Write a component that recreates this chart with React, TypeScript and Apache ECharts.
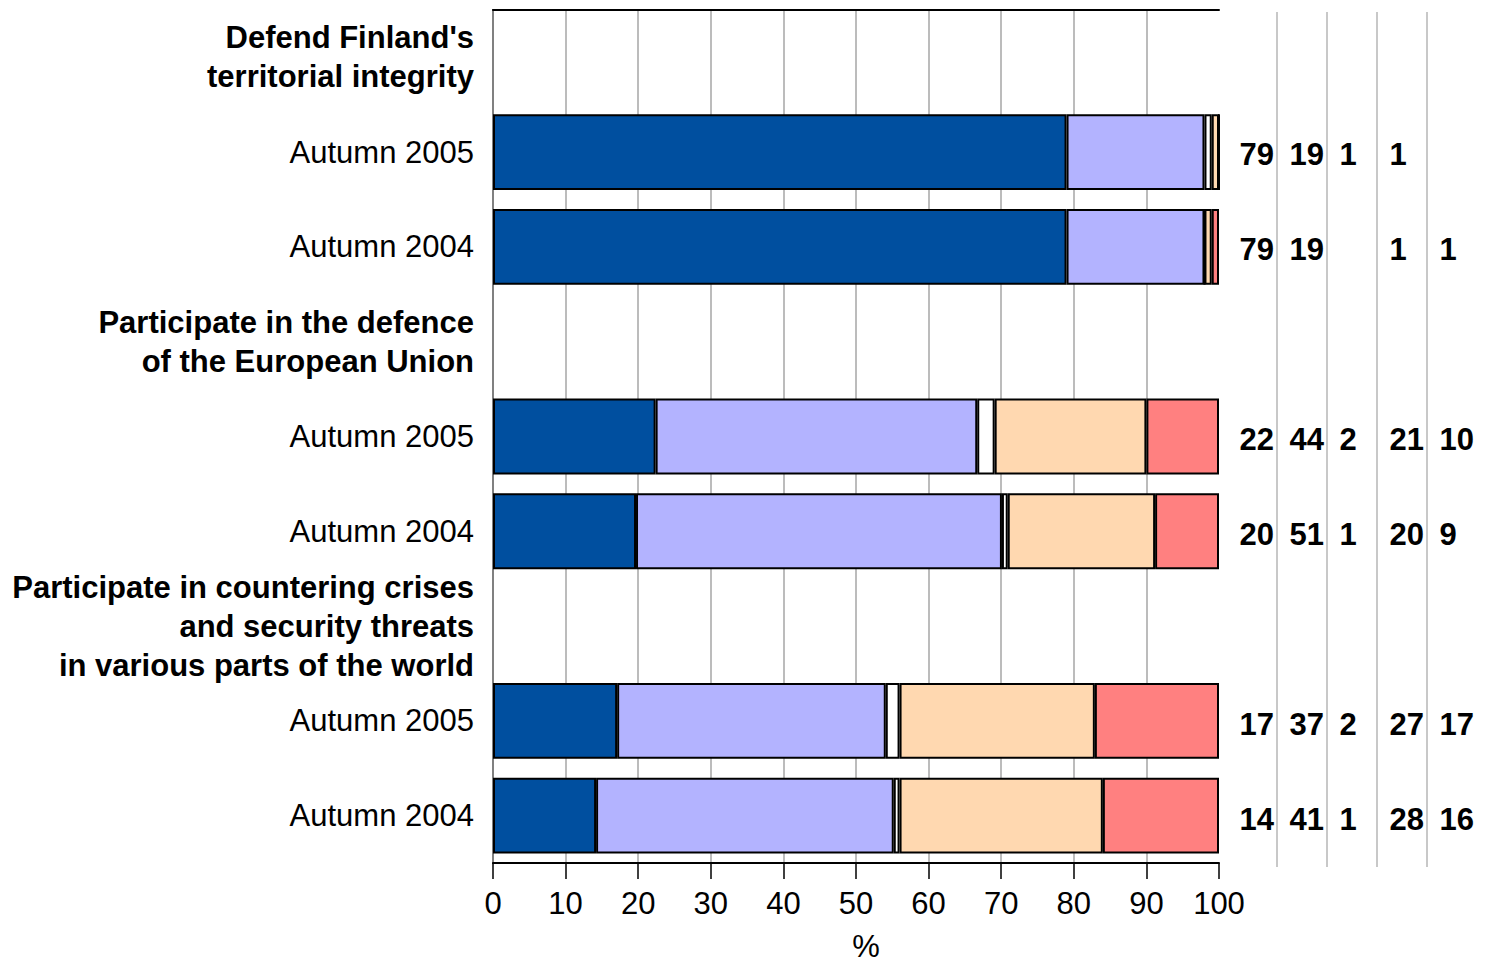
import React, { useEffect, useRef } from "react";
import * as echarts from "echarts";

// Rows of the chart (top to bottom); header rows carry no bars
const categories = [
  "Defend Finland's\nterritorial integrity",
  "Autumn 2005",
  "Autumn 2004",
  "Participate in the defence\nof the European Union",
  "Autumn 2005",
  "Autumn 2004",
  "Participate in countering crises\nand security threats\nin various parts of the world",
  "Autumn 2005",
  "Autumn 2004",
];
const headerRows = [0, 3, 6];

const seriesNames = ["Definitely yes", "Probably yes", "Can't say", "Probably not", "Definitely not"];
const seriesColors = ["#004F9F", "#B3B3FF", "#FFFFFF", "#FFD8B0", "#FF8080"];

// Bar lengths (%)
const definitelyYes = [null, 79, 79, null, 22.4, 19.7, null, 17.1, 14.2];
const probablyYes = [null, 19, 19, null, 44.3, 50.4, null, 37.0, 41.0];
const cantSay = [null, 1, 0, null, 2.4, 0.8, null, 1.9, 0.8];
const probablyNot = [null, 1, 1, null, 20.9, 20.3, null, 26.9, 28.0];
const definitelyNot = [null, 0, 1, null, 10.0, 8.8, null, 17.1, 16.0];

// Printed figures in the five columns at the right
const printedCol1 = [null, 79, 79, null, 22, 20, null, 17, 14];
const printedCol2 = [null, 19, 19, null, 44, 51, null, 37, 41];
const printedCol3 = [null, 1, null, null, 2, 1, null, 2, 1];
const printedCol4 = [null, 1, 1, null, 21, 20, null, 27, 28];
const printedCol5 = [null, null, 1, null, 10, 9, null, 17, 16];

const xMin = 0;
const xMax = 100;
const xInterval = 10;
const xName = "%";

export default function App() {
  const ref = useRef<HTMLDivElement>(null);

  useEffect(() => {
    const chart = echarts.init(ref.current!, null, { renderer: "svg" });
    const font = "Liberation Sans";
    const barData = [definitelyYes, probablyYes, cantSay, probablyNot, definitelyNot];
    const printedCols = [printedCol1, printedCol2, printedCol3, printedCol4, printedCol5];
    const scatterData: any[] = [];
    printedCols.forEach((col, ci) =>
      col.forEach((v, ri) => {
        if (v !== null) scatterData.push([ci, ri, v]);
      })
    );

    chart.setOption({
      animation: false,
      backgroundColor: "#ffffff",
      textStyle: { fontFamily: font, color: "#000" },
      grid: [
        { left: 493, right: 271, top: 10, bottom: 102, containLabel: false, outerBoundsMode: "none" },
        { left: 1227, width: 250, top: 12, height: 855, containLabel: false, outerBoundsMode: "none" },
      ],
      xAxis: [
        {
          type: "value",
          gridIndex: 0,
          position: "bottom",
          min: xMin,
          max: xMax,
          interval: xInterval,
          name: xName,
          nameLocation: "middle",
          nameGap: 70,
          nameTextStyle: {
            fontSize: 31,
            lineHeight: 26,
            color: "#000",
            fontFamily: font,
            padding: [0, 0, 0, 20],
          },
          axisLine: { show: true, lineStyle: { color: "#000", width: 2 } },
          axisTick: { show: true, length: 16, lineStyle: { color: "#000", width: 1.5 } },
          axisLabel: { fontSize: 31, color: "#000", fontFamily: font, margin: 25 },
          splitLine: {
            show: true,
            showMinLine: false,
            showMaxLine: false,
            lineStyle: { color: "#a6a6a6", width: 1.5 },
          },
        },
        {
          type: "value",
          gridIndex: 0,
          position: "top",
          min: xMin,
          max: xMax,
          axisLine: { show: true, lineStyle: { color: "#000", width: 2 } },
          axisTick: { show: false },
          axisLabel: { show: false },
          splitLine: { show: false },
        },
        {
          type: "value",
          gridIndex: 1,
          min: 0,
          max: 5,
          interval: 1,
          axisLine: { show: false },
          axisTick: { show: false },
          axisLabel: { show: false },
          splitLine: {
            show: true,
            showMinLine: false,
            showMaxLine: false,
            lineStyle: { color: "#c8c8c8", width: 2 },
          },
        },
      ],
      yAxis: [
        {
          type: "category",
          gridIndex: 0,
          data: categories,
          inverse: true,
          axisLine: { show: true, lineStyle: { color: "#000", width: 2 } },
          axisTick: { show: false },
          splitLine: { show: false },
          axisLabel: {
            margin: 19,
            formatter: (value: string, index: number) =>
              headerRows.includes(index) ? `{h|${value}}` : `{n|${value}}`,
            rich: {
              h: { fontWeight: "bold", fontSize: 31, lineHeight: 39, color: "#000", fontFamily: font },
              n: { fontSize: 31, color: "#000", fontFamily: font },
            },
          },
        },
        {
          type: "category",
          gridIndex: 0,
          position: "right",
          data: categories,
          inverse: true,
          axisLine: { show: true, lineStyle: { color: "#808080", width: 2 } },
          axisTick: { show: false },
          axisLabel: { show: false },
          splitLine: { show: false },
        },
        {
          type: "category",
          gridIndex: 1,
          data: categories,
          inverse: true,
          show: false,
        },
      ],
      series: [
        ...barData.map((d, i) => ({
          name: seriesNames[i],
          type: "bar",
          stack: "total",
          xAxisIndex: 0,
          yAxisIndex: 0,
          data: d,
          barCategoryGap: "20%",
          itemStyle: { color: seriesColors[i], borderColor: "#000", borderWidth: 2 },
        })),
        {
          type: "scatter",
          xAxisIndex: 2,
          yAxisIndex: 2,
          symbolSize: 1,
          itemStyle: { color: "rgba(255,255,255,0)" },
          data: scatterData,
          label: {
            show: true,
            position: "right",
            distance: 12,
            fontSize: 31,
            fontWeight: "bold",
            color: "#000000",
            opacity: 1,
            fontFamily: font,
            formatter: (p: any) => String(p.value[2]),
          },
        },
      ],
    });

    return () => chart.dispose();
  }, []);

  return (
    <div
      ref={ref}
      style={{ position: "absolute", left: 0, top: 0, width: 1490, height: 965 }}
    />
  );
}
